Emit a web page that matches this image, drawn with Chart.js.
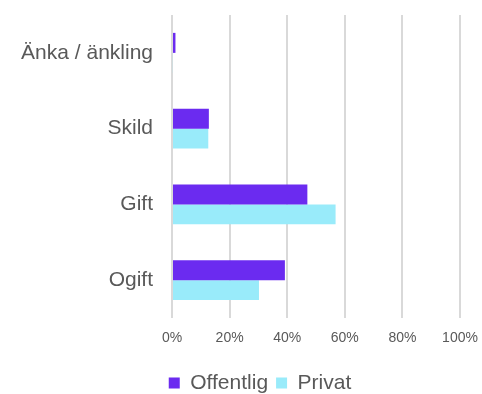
<!DOCTYPE html>
<html>
<head>
<meta charset="utf-8">
<script src="https://cdn.jsdelivr.net/npm/chart.js@4/dist/chart.umd.min.js"></script>
<style>
  html, body { margin: 0; padding: 0; background: #fff; }
  canvas { display: block; }
</style>
</head>
<body>
<canvas id="civilstand" width="482" height="394"></canvas>
<script>
const categories = ['Änka / änkling', 'Skild', 'Gift', 'Ogift'];
const offentlig = [1.2, 12.8, 47.0, 39.2];
const privat = [0.3, 12.6, 56.8, 30.2];
const percentTicks = [0, 20, 40, 60, 80, 100];

const textColor = '#595959';
const fontFamily = 'Arial, "Liberation Sans", sans-serif';

// legend sits a little right of the canvas centre
const legendShift = {
  id: 'legendShift',
  afterLayout(chart) {
    chart.legend.left += 25;
    chart.legend.right += 25;
  }
};

new Chart(document.getElementById('civilstand').getContext('2d'), {
  type: 'bar',
  data: {
    labels: categories,
    datasets: [
      { label: 'Offentlig', data: offentlig, backgroundColor: '#6b2bf0' },
      { label: 'Privat', data: privat, backgroundColor: '#99ebfa' }
    ]
  },
  plugins: [legendShift],
  options: {
    indexAxis: 'y',
    responsive: false,
    animation: false,
    devicePixelRatio: 1,
    layout: { padding: { left: 10, right: 22, top: 15, bottom: -9.5 } },
    datasets: {
      bar: { barPercentage: 1, categoryPercentage: 0.528 }
    },
    scales: {
      x: {
        min: percentTicks[0],
        max: percentTicks[percentTicks.length - 1],
        afterBuildTicks: (scale) => {
          scale.ticks = percentTicks.map(v => ({ value: v }));
        },
        afterFit: (scale) => {
          scale.height = 46.5;
          scale.paddingLeft = 0;
          scale.paddingRight = 0;
        },
        border: { display: false },
        grid: { color: '#d9d9d9', lineWidth: 2, drawTicks: false },
        ticks: {
          padding: 12,
          color: textColor,
          font: { family: fontFamily, size: 14 },
          callback: (v) => v + '%'
        }
      },
      y: {
        afterFit: (scale) => {
          scale.width = 162;
          scale.paddingTop = 0;
          scale.paddingBottom = 0;
        },
        border: { display: false },
        grid: { display: false, drawTicks: false },
        ticks: {
          padding: 19,
          color: textColor,
          font: { family: fontFamily, size: 21 }
        }
      }
    },
    plugins: {
      tooltip: { enabled: false },
      legend: {
        position: 'bottom',
        labels: {
          boxWidth: 11,
          boxHeight: 11,
          padding: 8,
          color: textColor,
          font: { family: fontFamily, size: 21 }
        }
      }
    }
  }
});
</script>
</body>
</html>
